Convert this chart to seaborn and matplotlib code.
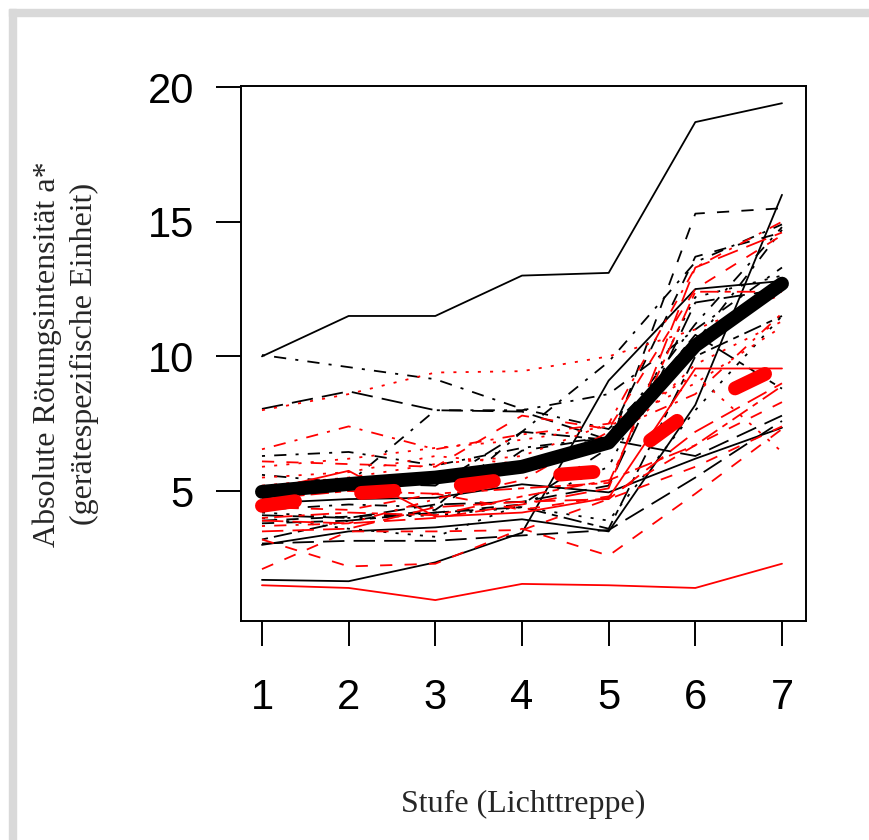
import matplotlib
matplotlib.use("Agg")
import matplotlib.pyplot as plt
import matplotlib.patches as mpatches
import seaborn as sns
import numpy as np

stages = [1, 2, 3, 4, 5, 6, 7]
tick_labels = ["1", "2", "3", "4", "5", "6", "7"]
y_ticks = [5, 10, 15, 20]

# black group (individual curves) and their line types
black_lines = [
    [10.0, 11.5, 11.5, 13.0, 13.1, 18.7, 19.4],
    [1.7, 1.65, 2.35, 3.45, 9.1, 12.5, 12.8],
    [3.0, 3.5, 3.65, 3.95, 3.5, 8.2, 16.0],
    [4.55, 4.7, 4.75, 5.25, 4.95, 6.2, 7.35],
    [3.9, 4.05, 4.2, 4.5, 6.6, 15.3, 15.5],
    [3.05, 3.15, 3.15, 3.35, 3.55, 5.5, 7.6],
    [8.05, 8.7, 8.0, 7.95, 6.9, 6.3, 7.8],
    [10.05, 9.6, 9.15, 8.05, 7.3, 10.5, 14.7],
    [6.3, 6.45, 5.95, 6.6, 7.0, 11.2, 14.8],
    [5.6, 5.3, 8.0, 8.0, 8.6, 11.0, 13.3],
    [4.2, 4.0, 4.1, 4.4, 3.9, 8.0, 11.5],
    [3.2, 3.9, 4.2, 4.4, 3.6, 10.0, 11.5],
    [3.8, 3.9, 4.3, 6.5, 7.0, 13.7, 14.6],
    [4.0, 3.6, 3.3, 4.5, 5.9, 12.2, 13.0],
    [4.1, 4.0, 4.5, 4.6, 5.2, 12.0, 12.5],
    [5.0, 5.3, 5.2, 7.2, 6.9, 10.8, 8.8],
    [4.3, 4.5, 4.4, 7.2, 9.8, 13.5, 14.9],
]
black_lty = ["solid", "solid", "solid", "solid", "dashed", "longdash", "longdash",
             "dotdash", "dotdash", "dotdash", "dotted", "twodash", "dashed",
             "dotted", "longdash", "twodash", "dotdash"]

# red group
red_lines = [
    [1.5, 1.4, 0.95, 1.55, 1.5, 1.4, 2.3],
    [5.0, 5.75, 4.05, 4.2, 4.75, 9.55, 9.55],
    [3.2, 2.2, 2.3, 3.6, 2.6, 4.9, 7.3],
    [2.1, 3.5, 3.5, 3.55, 4.7, 5.9, 7.4],
    [8.0, 8.6, 9.4, 9.45, 10.0, 11.0, 12.3],
    [6.55, 7.4, 6.55, 7.1, 7.5, 13.3, 15.0],
    [6.1, 6.0, 5.9, 7.8, 7.3, 12.5, 14.5],
    [5.2, 5.5, 6.0, 6.3, 7.5, 9.3, 6.45],
    [4.7, 5.0, 4.9, 5.1, 5.3, 12.4, 12.4],
    [3.9, 3.8, 4.0, 4.5, 5.1, 13.3, 14.6],
    [4.4, 4.3, 4.9, 4.3, 4.8, 6.7, 8.3],
    [5.5, 5.7, 6.3, 6.0, 6.6, 9.7, 11.3],
    [3.7, 3.8, 4.7, 5.4, 7.2, 8.6, 11.6],
    [4.0, 4.2, 4.1, 4.8, 5.4, 6.7, 8.9],
    [3.5, 3.6, 4.4, 4.6, 4.7, 7.2, 9.0],
    [5.9, 6.2, 6.6, 6.9, 7.4, 9.0, 11.1],
]
red_lty = ["solid", "solid", "dashed", "dashed", "dotted", "dotdash", "dashed",
           "dotted", "twodash", "longdash", "dashed", "dotted", "dotdash",
           "twodash", "longdash", "dotted"]

# group means (thick lines)
black_mean = [4.97, 5.26, 5.5, 5.9, 6.8, 10.4, 12.7]
red_mean = [4.45, 4.9, 5.1, 5.5, 5.75, 8.1, 9.65]

u = 2.2  # R dash unit in points
lty_map = {
    "solid": "-",
    "dashed": (0, (4 * u, 4 * u)),
    "dotted": (0, (1 * u, 3 * u)),
    "dotdash": (0, (1 * u, 3 * u, 4 * u, 3 * u)),
    "longdash": (0, (7 * u, 3 * u)),
    "twodash": (0, (2 * u, 2 * u, 6 * u, 2 * u)),
}

sns.set_style("ticks")
plt.rcParams["lines.scale_dashes"] = False
plt.rcParams["font.family"] = ["Liberation Sans", "DejaVu Sans"]

fig = plt.figure(figsize=(8.69, 8.40), dpi=100)
fig.patch.set_facecolor("white")
# grey frame of the screenshot
fig.patches.append(mpatches.Rectangle((9 / 869, 1 - 16 / 840), 1, 7 / 840,
                                      transform=fig.transFigure, color="#d9d9d9", zorder=0))
fig.patches.append(mpatches.Rectangle((9 / 869, 0), 7 / 869, 1 - 9 / 840,
                                      transform=fig.transFigure, color="#d9d9d9", zorder=0))

ax = fig.add_axes([241 / 869, 1 - 621 / 840, 565 / 869, 535 / 840])

for vals, lt in zip(black_lines, black_lty):
    sns.lineplot(x=stages, y=vals, ax=ax, color="black", linewidth=1.3,
                 linestyle=lty_map[lt], solid_joinstyle="round")
for vals, lt in zip(red_lines, red_lty):
    sns.lineplot(x=stages, y=vals, ax=ax, color="#ff0000", linewidth=1.3,
                 linestyle=lty_map[lt], solid_joinstyle="round")

sns.lineplot(x=stages, y=black_mean, ax=ax, color="black", linewidth=10,
             solid_capstyle="round", solid_joinstyle="round")
sns.lineplot(x=stages, y=red_mean, ax=ax, color="#ff0000", linewidth=10,
             linestyle=(0, (24, 48)), dash_capstyle="round", dash_joinstyle="round")

ax.set_xlim(0.758, 7.277)
ax.set_ylim(0.173, 20.04)
ax.set_xticks(stages)
ax.set_xticklabels(tick_labels)
ax.set_yticks(y_ticks)
ax.set_yticklabels([str(t) for t in y_ticks])
ax.tick_params(axis="both", which="major", direction="out", length=18, width=1.4,
               labelsize=30, color="black", labelcolor="black",
               bottom=True, left=True, top=False, right=False)
ax.tick_params(axis="x", pad=23)
ax.tick_params(axis="y", pad=16)
for sp in ax.spines.values():
    sp.set_visible(True)
    sp.set_color("black")
    sp.set_linewidth(1.4)

serif = ["Liberation Serif", "DejaVu Serif"]
fig.text(47 / 869, 1 - 354 / 840, "Absolute Rötungsintensität a*", rotation=90,
         ha="center", va="center", fontsize=23, family=serif)
fig.text(84 / 869, 1 - 354 / 840, "(gerätespezifische Einheit)", rotation=90,
         ha="center", va="center", fontsize=23, family=serif)
fig.text(523 / 869, 1 - 804 / 840, "Stufe (Lichttreppe)", ha="center", va="center",
         fontsize=23, family=serif)

fig.savefig("out.png", dpi=100)
